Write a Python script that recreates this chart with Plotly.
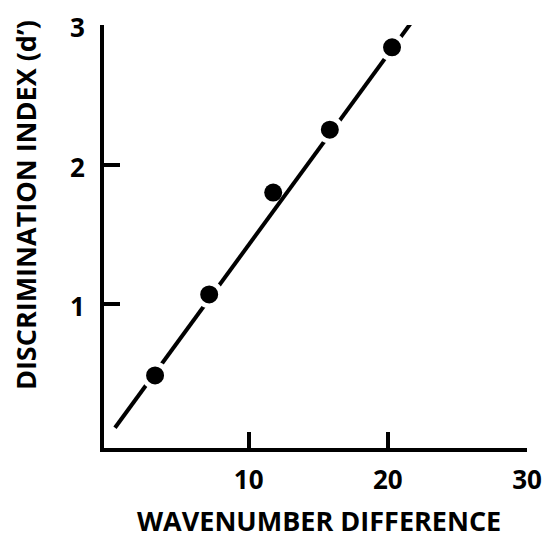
import plotly.graph_objects as go

# Data
wavenumber_diff = [3.27, 7.16, 11.76, 15.83, 20.3]
d_prime = [0.49, 1.07, 1.80, 2.25, 2.84]
fit_x = [0.39, 21.7]
fit_y = [0.115, 3.02]
x_ticks = [10, 20, 30]
y_ticks = [1, 2, 3]
x_title = "WAVENUMBER DIFFERENCE"
y_title = "DISCRIMINATION INDEX (d\u2019)"

FONT = "Open Sans"

fig = go.Figure()
fig.add_trace(go.Scatter(
    x=fit_x, y=fit_y, mode="lines",
    line=dict(color="black", width=4),
    hoverinfo="skip", showlegend=False,
))
fig.add_trace(go.Scatter(
    x=wavenumber_diff, y=d_prime, mode="markers",
    marker=dict(color="black", opacity=1, size=[23, 23, 18, 23, 23],
                line=dict(color="white", width=[5, 5, 0, 5, 5])),
    showlegend=False,
))

fig.update_layout(
    width=558, height=539,
    margin=dict(l=96, r=39, t=17, b=99, autoexpand=False),
    plot_bgcolor="white", paper_bgcolor="white",
    font=dict(family=FONT, color="black", size=22, weight=700),
    annotations=[
        dict(text=x_title, xref="paper", yref="paper", x=0.509, y=-0.172,
             xanchor="center", yanchor="middle", showarrow=False,
             font=dict(family=FONT, size=27, weight=700, color="black")),
        dict(text=y_title, xref="paper", yref="paper", x=-0.187, y=0.574,
             xanchor="center", yanchor="middle", showarrow=False, textangle=-90,
             font=dict(family=FONT, size=27, weight=700, color="black")),
    ],
)
fig.update_xaxes(
    range=[-0.4, 30], showgrid=False, zeroline=False,
    showline=True, linecolor="black", linewidth=4,
    ticks="inside", ticklen=16, tickwidth=4, tickcolor="black",
    tickvals=x_ticks, ticktext=[str(v) for v in x_ticks],
    tickfont=dict(family=FONT, size=26, weight=700),
    ticklabelstandoff=6, ticklabeloverflow="allow", automargin=False,
)
fig.update_yaxes(
    range=[-0.03, 3], showgrid=False, zeroline=False,
    showline=True, linecolor="black", linewidth=4,
    ticks="inside", ticklen=16, tickwidth=4, tickcolor="black",
    tickvals=y_ticks, ticktext=[str(v) for v in y_ticks],
    tickfont=dict(family=FONT, size=26, weight=700),
    ticklabelstandoff=10, ticklabelshift=3,
    ticklabeloverflow="allow", automargin=False,
)

fig.write_html("out.html")
